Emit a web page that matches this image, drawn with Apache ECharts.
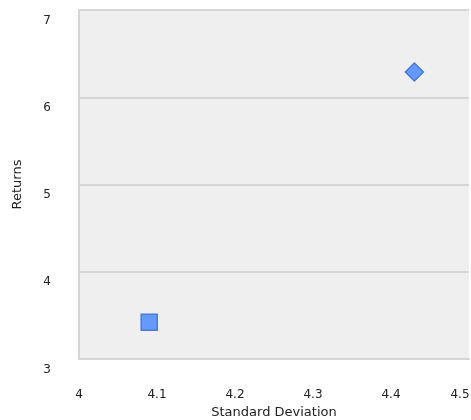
<!DOCTYPE html>
<html>
<head>
<meta charset="utf-8">
<script src="https://cdn.jsdelivr.net/npm/echarts@6/dist/echarts.min.js"></script>
<style>
  html, body { margin: 0; padding: 0; background: #ffffff; }
  #chart { width: 471px; height: 420px; }
</style>
</head>
<body>
<div id="chart"></div>
<script>
// Risk / return points
const seriesNames = ['Portfolio A', 'Portfolio B'];
const stdDev = [4.43, 4.09];
const returns = [6.29, 3.42];

// Axis ranges and ticks
const xTicks = [4, 4.1, 4.2, 4.3, 4.4, 4.5];
const yTicks = [3, 4, 5, 6, 7];

const fontFamily = '"DejaVu Sans", Verdana, sans-serif';
const markerFill = '#6699ff';
const markerEdge = '#4a7ad8';
const xMax = xTicks[xTicks.length - 1];

const chart = echarts.init(document.getElementById('chart'));
chart.setOption({
  animation: false,
  textStyle: { fontFamily: fontFamily },
  grid: {
    left: 79, right: 2, top: 10, bottom: 61,
    outerBoundsMode: 'none',
    show: true, backgroundColor: '#efefef',
    borderWidth: 0, borderColor: 'transparent'
  },
  xAxis: {
    type: 'value',
    min: xTicks[0], max: xMax, interval: 0.1,
    name: 'Standard Deviation',
    nameLocation: 'middle', nameGap: 46,
    nameTextStyle: { fontSize: 13, color: '#222', fontFamily: fontFamily },
    axisLine: { show: true, lineStyle: { color: '#d6d6d6', width: 2 } },
    axisTick: { show: false },
    splitLine: { show: false },
    axisLabel: {
      fontSize: 12, color: '#222', margin: 30,
      // the last tick label is pulled inside the canvas edge
      formatter: v => {
        const s = String(Math.round(v * 10) / 10);
        return Math.abs(v - xMax) < 1e-9 ? '{last|' + s + '}' : s;
      },
      rich: {
        last: { fontSize: 12, color: '#222', fontFamily: fontFamily, padding: [0, 18, 0, 0] }
      }
    }
  },
  yAxis: {
    type: 'value',
    min: yTicks[0], max: yTicks[yTicks.length - 1], interval: 1,
    name: 'Returns',
    nameLocation: 'middle', nameGap: 55,
    nameTextStyle: { fontSize: 13, color: '#222', fontFamily: fontFamily },
    axisLine: { show: true, lineStyle: { color: '#d6d6d6', width: 2 } },
    axisTick: { show: false },
    splitLine: { show: true, lineStyle: { color: '#d6d6d6', width: 2 } },
    axisLabel: {
      fontSize: 12, color: '#222', margin: 28,
      verticalAlign: 'top', lineHeight: 21
    }
  },
  series: [
    {
      name: seriesNames[0],
      type: 'scatter',
      symbol: 'diamond',
      symbolSize: 18,
      itemStyle: { color: markerFill, borderColor: markerEdge, borderWidth: 1.5, opacity: 1 },
      data: [[stdDev[0], returns[0]]]
    },
    {
      name: seriesNames[1],
      type: 'scatter',
      symbol: 'rect',
      symbolSize: 16,
      itemStyle: { color: markerFill, borderColor: markerEdge, borderWidth: 1.5, opacity: 1 },
      data: [[stdDev[1], returns[1]]]
    }
  ]
});
</script>
</body>
</html>
